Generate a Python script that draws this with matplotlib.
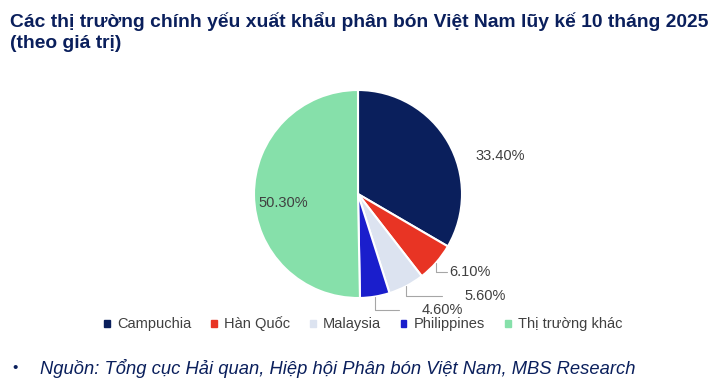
import matplotlib
matplotlib.use("Agg")
from matplotlib import pyplot as plt
import numpy as np

plt.rcParams["font.family"] = ["Liberation Sans", "DejaVu Sans"]

title = "Các thị trường chính yếu xuất khẩu phân bón Việt Nam lũy kế 10 tháng 2025\n(theo giá trị)"
source = "Nguồn: Tổng cục Hải quan, Hiệp hội Phân bón Việt Nam, MBS Research"

markets = ["Campuchia", "Hàn Quốc", "Malaysia", "Philippines", "Thị trường khác"]
shares = [33.4, 6.1, 5.6, 4.6, 50.3]
colors = ["#0A1F5C", "#E83424", "#DCE3F0", "#1A1ECC", "#86E0AA"]

# label text positions (in pie radius units) and whether a leader line is drawn
label_pos = [(1.37, 0.37), (1.08, -0.75), (1.22, -0.98), (0.81, -1.12), (-0.72, -0.09)]
leader = [False, True, True, True, False]

fig = plt.figure(figsize=(7.26, 3.83), dpi=100)
fig.patch.set_facecolor("white")

fig.text(10 / 726, 1 - 12 / 383, title, ha="left", va="top", fontsize=13.9,
         fontweight="bold", color="#0A1F5C", linespacing=1.32)

ax = fig.add_axes([(358 - 104) / 726, (383 - 194 - 104) / 383, 208 / 726, 208 / 383])
wedges, _ = ax.pie(shares, colors=colors, startangle=90, counterclock=False,
                   radius=1, wedgeprops=dict(edgecolor="white", linewidth=1.5))
ax.set_xlim(-1, 1)
ax.set_ylim(-1, 1)
ax.set_aspect("equal")
ax.axis("off")

for w, s, (lx, ly), ld in zip(wedges, shares, label_pos, leader):
    txt = f"{s:.2f}%"
    if ld:
        ang = np.deg2rad((w.theta1 + w.theta2) / 2)
        ex, ey = np.cos(ang), np.sin(ang)
        ax.annotate(txt, xy=(ex, ey), xytext=(lx, ly), ha="center", va="center",
                    fontsize=10.5, color="#404040", annotation_clip=False,
                    arrowprops=dict(arrowstyle="-", color="#A6A6A6", lw=0.8,
                                    shrinkA=14, shrinkB=0,
                                    connectionstyle="angle,angleA=0,angleB=90,rad=0"))
    else:
        ax.text(lx, ly, txt, ha="center", va="center", fontsize=10.5, color="#404040")

handles = [plt.Rectangle((0, 0), 1, 1, color=c) for c in colors]
fig.legend(handles, markets, loc="center", bbox_to_anchor=(363 / 726, 1 - 324 / 383),
           ncol=5, frameon=False, fontsize=10.5, handlelength=0.4, handleheight=0.4,
           handletextpad=0.5, columnspacing=1.35, labelcolor="#404040")

fig.text(12 / 726, 1 - 368 / 383, "•", ha="left", va="center", fontsize=11,
         color="#0A1F5C")
fig.text(40 / 726, 1 - 368 / 383, source, ha="left", va="center", fontsize=13.2,
         style="italic", color="#0A1F5C")

fig.savefig("out.png", dpi=100)
